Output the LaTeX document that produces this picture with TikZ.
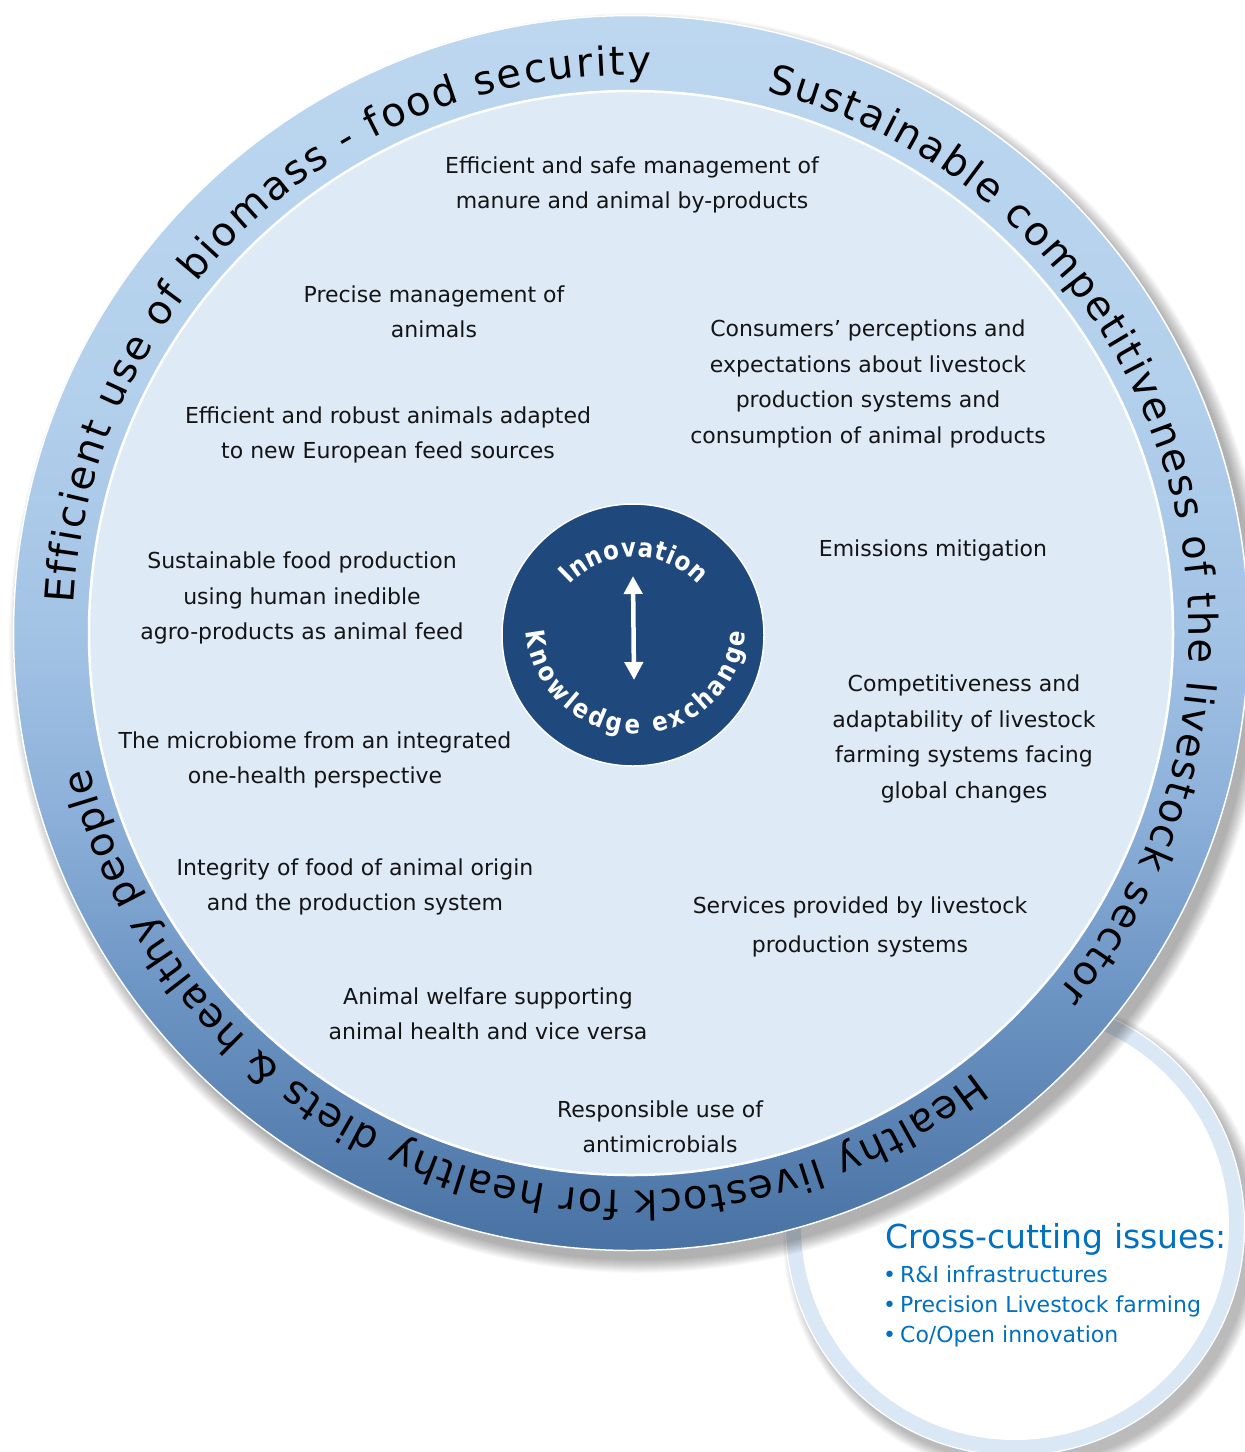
\documentclass[tikz,border=0pt]{standalone}
\usepackage{fontspec}
\setmainfont{DejaVu Sans}
\newfontfamily\hubfam[FakeStretch=0.88]{DejaVu Sans}
\usetikzlibrary{decorations.text,arrows.meta}
\definecolor{rt}{HTML}{BDD7EF}
\definecolor{r5}{HTML}{B3D0EC}
\definecolor{r4}{HTML}{A3C3E5}
\definecolor{r3}{HTML}{8DB1DA}
\definecolor{r2}{HTML}{6B93C2}
\definecolor{rb}{HTML}{4872A3}
\definecolor{innerfill}{HTML}{DEEAF6}
\definecolor{hubblue}{HTML}{1F487C}
\definecolor{ccblue}{HTML}{0070C0}
\definecolor{ccring}{HTML}{DAE7F5}
\definecolor{topictext}{HTML}{141414}
\pgfdeclareverticalshading{ringshade}{100bp}{color(0bp)=(rb); color(25bp)=(rb); color(35bp)=(r2); color(43bp)=(r3); color(50bp)=(r4); color(60bp)=(r5); color(75bp)=(rt); color(100bp)=(rt)}
\newcommand\ringfont{\fontsize{40}{40}\selectfont}
\newcommand\hubtext{\hubfam\bfseries\fontsize{26}{26}\selectfont}
\begin{document}
\begin{tikzpicture}[x=1pt,y=1pt,
  topic/.style={align=center, text=topictext, font=\fontsize{22}{35.5}\selectfont, inner sep=0pt},
  bulletitem/.style={anchor=base west, text=ccblue, font=\fontsize{22}{26}\selectfont, inner sep=0pt},
  ringtext/.style={decorate, decoration={text along path, text align={fit to path}, text color=black}},
  hubarc/.style={decorate, decoration={text along path, text align={fit to path}, text color=white}},
]
\useasboundingbox (0,0) rectangle (1245,-1452);
\fill[white] (0,0) rectangle (1245,-1452);
\clip (0,0) rectangle (1245,-1452);

\coordinate (c) at (631,-633);
\coordinate (cc) at (1015,-1226);
\coordinate (innc) at (634,-645);
\coordinate (knc) at (636,-624);

% cross-cutting circle (behind)
\foreach \k in {1,...,12} {\fill[black, opacity=0.022] (1023,-1236) circle[radius=228pt+\k*1pt];}
\fill[ccring] (cc) circle[radius=230pt];
\draw[white, line width=1.2pt] (cc) circle[radius=229.5pt];
\fill[white] (cc) circle[radius=214pt];

% main circle shadow
\foreach \k in {1,...,14} {\fill[black, opacity=0.022] (639,-643) circle[radius=616pt+\k*1pt];}

% main ring
\shade[shading=ringshade] (c) circle[radius=618pt];
\draw[white, line width=1.5pt] (c) circle[radius=617.5pt];
\fill[innerfill] (c) circle[radius=542pt];
\draw[white, line width=2.5pt] (c) circle[radius=542pt];

% ring texts
\path[ringtext, decoration={text={|\ringfont|Efficient use of biomass - food security}}]
  ([shift={(177:558pt)}]c) arc[start angle=177, end angle=88, radius=558pt];
\path[ringtext, decoration={text={|\ringfont|Sustainable competitiveness of the livestock sector}}]
  ([shift={(76:558pt)}]c) arc[start angle=76, end angle=-40, radius=558pt];
\path[ringtext, decoration={text={|\ringfont|Healthy livestock for healthy diets {\&} healthy people}}]
  ([shift={(-52:558pt)}]c) arc[start angle=-52, end angle=-166, radius=558pt];

% hub
\node[circle, fill=hubblue, draw=white, line width=1.5pt, minimum size=262pt, inner sep=0pt] (hub) at (633,-635) {};
\path[hubarc, decoration={text={|\hubtext|Innovation}}]
  ([shift={(137:88pt)}]innc) arc[start angle=137, end angle=43, radius=88pt];
\path[hubarc, decoration={text={|\hubtext|Knowledge exchange}}]
  ([shift={(184:110pt)}]knc) arc[start angle=184, end angle=356, radius=110pt];
\coordinate (arrT) at (633,-576);
\coordinate (arrB) at (634,-680);
\draw[white, line width=4.5pt, {Triangle[width=18pt,length=18pt]}-{Triangle[width=18pt,length=18pt]}] (arrT) -- (arrB);

% topics
\node[topic] (t1) at (632,-185) {Efficient and safe management of\\manure and animal by-products};
\node[topic] (t2) at (434,-312) {Precise management of\\animals};
\node[topic] (t3) at (868,-384) {Consumers’ perceptions and\\expectations about livestock\\production systems and\\consumption of animal products};
\node[topic] (t4) at (388,-435) {Efficient and robust animals adapted\\to new European feed sources};
\node[topic] (t5) at (933,-550) {Emissions mitigation};
\node[topic] (t6) at (302,-598) {Sustainable food production\\using human inedible\\agro-products as animal feed};
\node[topic] (t7) at (964,-739) {Competitiveness and\\adaptability of livestock\\farming systems facing\\global changes};
\node[topic] (t8) at (315,-760) {The microbiome from an integrated\\one-health perspective};
\node[topic] (t9) at (355,-887) {Integrity of food of animal origin\\and the production system};
\node[topic, font=\fontsize{22}{39}\selectfont] (t10) at (860,-927) {Services provided by livestock\\production systems};
\node[topic] (t11) at (488,-1014) {Animal welfare supporting\\animal health and vice versa};
\node[topic] (t12) at (660,-1127) {Responsible use of\\antimicrobials};

% cross-cutting issues
\node[anchor=base west, text=ccblue, font=\fontsize{33}{33}\selectfont, inner sep=0pt] (cchead) at (885,-1248) {Cross-cutting issues:};
\node[bulletitem] (cc1) at (883,-1282) {•\hspace{4pt}R\&I infrastructures};
\node[bulletitem] (cc2) at (883,-1312) {•\hspace{4pt}Precision Livestock farming};
\node[bulletitem] (cc3) at (883,-1342) {•\hspace{4pt}Co/Open innovation};
\end{tikzpicture}
\end{document}
